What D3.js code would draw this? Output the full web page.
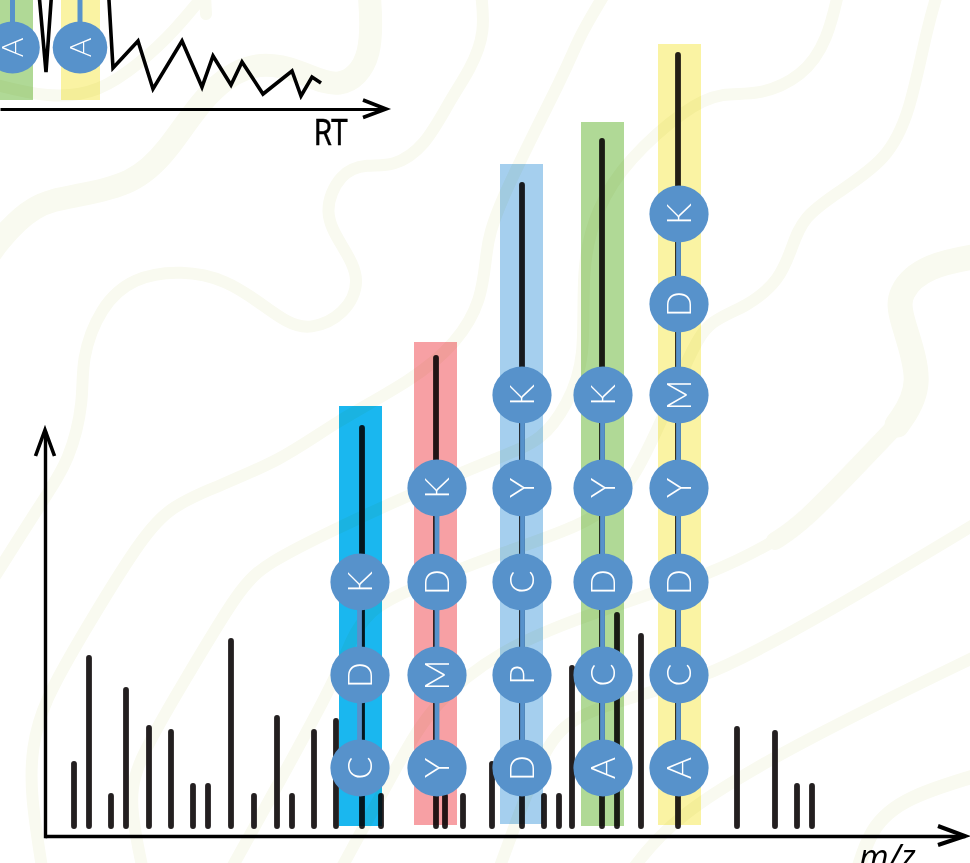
<!DOCTYPE html>
<html><head><meta charset="utf-8">
<style>html,body{margin:0;padding:0;background:#fff;overflow:hidden}svg{display:block}</style>
<script src="https://cdn.jsdelivr.net/npm/d3@7/dist/d3.min.js"></script>
</head><body><svg id="c" width="970" height="863"></svg>
<script>
// spectrum peaks (m/z, intensity)
const peakMz = [29,44,66,81,104,126,148,163,186,209,232,247,269,291,336,400,418,447,499,514,527,572,596,692,730,752,767];
const peakIntensity = [72,178,40,146,108,104,50,50,195,40,118,40,104,115,40,40,40,72,40,40,168,221,200,107,103,50,50];
// tagged peptides
const peptideNames = ["CDK","YMDK","DPCYK","ACDYK","ACDYMDK"];
const peptideMz = [317,391,477,557,633];
const peptideIntensity = [408,478,651,695,781];
const bandMz = [315.5,390.5,476.5,557.5,634.5];
const bandTop = [430,494,672,714,792];
const bandBottom = [10,11,12,10,11];
const bandColors = ["#1ab7ef","#f7a0a4","#a5cfee","#b0d996","#faf3a3"];
const circleMz = [315,392,477,558,634];
const linkMz = [314.5,392,477.5,557.5,633.5];
const ladder = [68,161,254,348,441,532,622];
// chromatogram (RT, signal)
const rtValues = [36,46,54,80,106.6,113,138,153,182,202,213,231,242,263,292,301,312,321];
const rtSignal = [149,37,149,149,149,41,68,20,68,22,53,24,47,15,38,13,32,26];
const insetLetters = ["A","A"];
const insetRt = [12.5,80];
const insetBandLeft = [-20,61];
const insetBandRight = [33,100];
const insetBandColors = ["#b0d996","#faf3a3"];
// decorative background ribbons: [stroke width, points]
const ribbons = [
 [23,[[-15,262],[-5,245],[33,203],[77,196],[133,184],[167,153],[207,90],[253,60],[300,70],[340,92],[375,60],[368,-20]]],
 [12,[[-15,82],[50,99],[100,92],[140,63],[173,33],[212,-15]]],
 [12,[[-15,592],[43,500],[70,460],[84,400],[81,360],[100,307],[133,277],[182,270],[227,280],[260,303],[287,323],[310,330],[345,315],[362,280],[343,247],[322,213],[340,172],[367,164],[393,167],[425,147],[450,100],[470,70],[486,33],[480,-15]]],
 [12,[[44,880],[30,793],[32,747],[43,703],[83,633],[140,540],[167,510],[200,493],[283,460],[333,423],[413,380],[457,343],[482,300],[486,253],[493,213],[570,63],[577,40],[610,-15]]],
 [12,[[145,880],[130,810],[133,767],[187,677],[240,587],[267,563],[333,530],[413,493],[500,457],[543,440],[567,405],[586,360],[581,267],[597,207],[627,160],[687,107],[723,92],[757,96],[803,77],[828,40],[840,-15]]],
 [12,[[225,880],[340,673],[350,640],[370,610],[400,593],[500,553],[580,527],[633,493],[690,350],[710,320],[747,307],[780,280],[792,247],[803,217],[837,193],[887,160],[910,113],[927,27],[940,-15]]],
 [12,[[335,880],[400,760],[433,703],[500,650],[580,617],[703,577],[753,553],[790,532]]],
 [18,[[775,541],[803,523],[863,460],[897,425],[910,410]]],
 [25,[[897,425],[925,385],[900,317],[898,293],[925,265],[985,255]]],
 [12,[[495,880],[515,825],[545,745],[575,715],[640,695],[703,677],[753,653],[837,607],[985,518]]],
 [12,[[625,880],[670,817],[803,740],[985,652]]],
 [14,[[855,880],[870,827],[905,797],[985,773]]]
];
const svg = d3.select("#c");
const bg = svg.append("g");
const ribbonLine = d3.line().curve(d3.curveBasis);
bg.selectAll("path").data(ribbons).join("path")
  .attr("d",d=>ribbonLine(d[1])).attr("fill","none")
  .attr("stroke","#f9faf0").attr("stroke-width",d=>d[0]).attr("stroke-linecap","round");
bg.append("line").attr("x1",205).attr("y1",-5).attr("x2",206).attr("y2",14)
  .attr("stroke","#f9faf0").attr("stroke-width",12).attr("stroke-linecap","round");

const x = d3.scaleLinear().domain([0,920]).range([45,965]);
const y = d3.scaleLinear().domain([0,800]).range([836,36]);
const yAxisScale = d3.scaleLinear().domain([0,406]).range([837.7,431]);
const bandW = 43;
const peakColor = "#231f20";
const base = 10;

// inset
const rtX = d3.scaleLinear().domain([0,385]).range([0,385]);
const rtY = d3.scaleLinear().domain([0,109]).range([109,0]);
const inset = svg.append("g");
inset.append("path")
  .attr("d",d3.line().x(d=>rtX(d[0])).y(d=>rtY(d[1]))(rtValues.map((v,i)=>[v,rtSignal[i]])))
  .attr("fill","none").attr("stroke","#000").attr("stroke-width",3.6).attr("stroke-miterlimit",8);
insetBandLeft.forEach((l,i)=>{
  inset.append("rect").attr("x",rtX(l)).attr("y",-10).attr("width",rtX(insetBandRight[i])-rtX(l))
   .attr("height",rtY(9)+10).attr("fill",insetBandColors[i]).style("mix-blend-mode","multiply");
});
insetRt.forEach((r,i)=>{
  inset.append("line").attr("x1",rtX(r)).attr("x2",rtX(r)).attr("y1",-5).attr("y2",47.5)
   .attr("stroke","#5792cb").attr("stroke-width",5);
  inset.append("ellipse").attr("cx",rtX(r)).attr("cy",47.5).attr("rx",27.3).attr("ry",26).attr("fill","#5792cb");
  inset.append("text").attr("transform",`translate(${rtX(r)},47.5) rotate(-90)`)
   .attr("text-anchor","middle").attr("dy","0.36em").attr("fill","#fff")
   .style("font","300 30px Lato").text(insetLetters[i]);
});
const rtAxis = inset.append("g").attr("transform",`translate(0,${rtY(0)})`)
  .call(d3.axisBottom(rtX).tickValues([]).tickSizeOuter(0));
rtAxis.select(".domain").attr("stroke","#000").attr("stroke-width",3.2);
inset.append("path").attr("d","M363,100L386,109L363,117.5").attr("fill","none").attr("stroke","#000").attr("stroke-width",3.6);
inset.append("text").attr("x",314).attr("y",145).attr("textLength",34).attr("lengthAdjust","spacingAndGlyphs")
  .style("font","36px 'Roboto'").style("stroke","#000").style("stroke-width",0.4).attr("fill","#000").text("RT");

// peaks
const bars = svg.append("g");
const allPeaks = peakMz.map((m,i)=>[m,peakIntensity[i]]).concat(peptideMz.map((m,i)=>[m,peptideIntensity[i]]));
bars.selectAll("line").data(allPeaks).join("line")
  .attr("x1",d=>x(d[0])).attr("x2",d=>x(d[0])).attr("y1",y(base)).attr("y2",d=>y(d[1]))
  .attr("stroke",peakColor).attr("stroke-width",5.8).attr("stroke-linecap","round");

// bands
svg.append("g").selectAll("rect").data(bandMz).join("rect")
  .attr("x",d=>x(d)-bandW/2).attr("width",bandW)
  .attr("y",(d,i)=>y(bandTop[i])).attr("height",(d,i)=>y(bandBottom[i])-y(bandTop[i]))
  .attr("fill",(d,i)=>bandColors[i]).style("mix-blend-mode","multiply");

// ladders
peptideNames.forEach((name,i)=>{
  const g = svg.append("g");
  const letters = name.split("");
  g.append("line").attr("x1",x(linkMz[i])).attr("x2",x(linkMz[i]))
    .attr("y1",y(ladder[0])).attr("y2",y(ladder[letters.length-1]))
    .attr("stroke","#5792cb").attr("stroke-width",4.8);
  letters.forEach((c,k)=>{
    const cx=x(circleMz[i]), cy=y(ladder[k]);
    g.append("ellipse").attr("cx",cx).attr("cy",cy).attr("rx",29.6).attr("ry",28.4).attr("fill","#5792cb");
    g.append("text").attr("transform",`translate(${cx},${cy}) rotate(-90)`)
     .attr("text-anchor","middle").attr("dy","0.36em").attr("fill","#fff")
     .style("font","300 34px Lato").text(c);
  });
});

// axes
const xAxis = svg.append("g").attr("transform",`translate(0,${y(0)})`)
  .call(d3.axisBottom(x).tickValues([]).tickSizeOuter(0));
xAxis.select(".domain").attr("stroke","#000").attr("stroke-width",3.4);
const yAxis = svg.append("g").attr("transform",`translate(${x(0)},0)`)
  .call(d3.axisLeft(yAxisScale).tickValues([]).tickSizeOuter(0));
yAxis.select(".domain").attr("stroke","#000").attr("stroke-width",3.4);
svg.append("path").attr("d","M938,826L965,836L938,845").attr("fill","none").attr("stroke","#000").attr("stroke-width",4);
svg.append("path").attr("d","M35.5,456L45,430L54.5,456").attr("fill","none").attr("stroke","#000").attr("stroke-width",3.6);
svg.append("text").attr("x",859).attr("y",869).attr("fill","#000")
  .style("font","italic 34px 'Open Sans'").text("m/z");
</script></body></html>
